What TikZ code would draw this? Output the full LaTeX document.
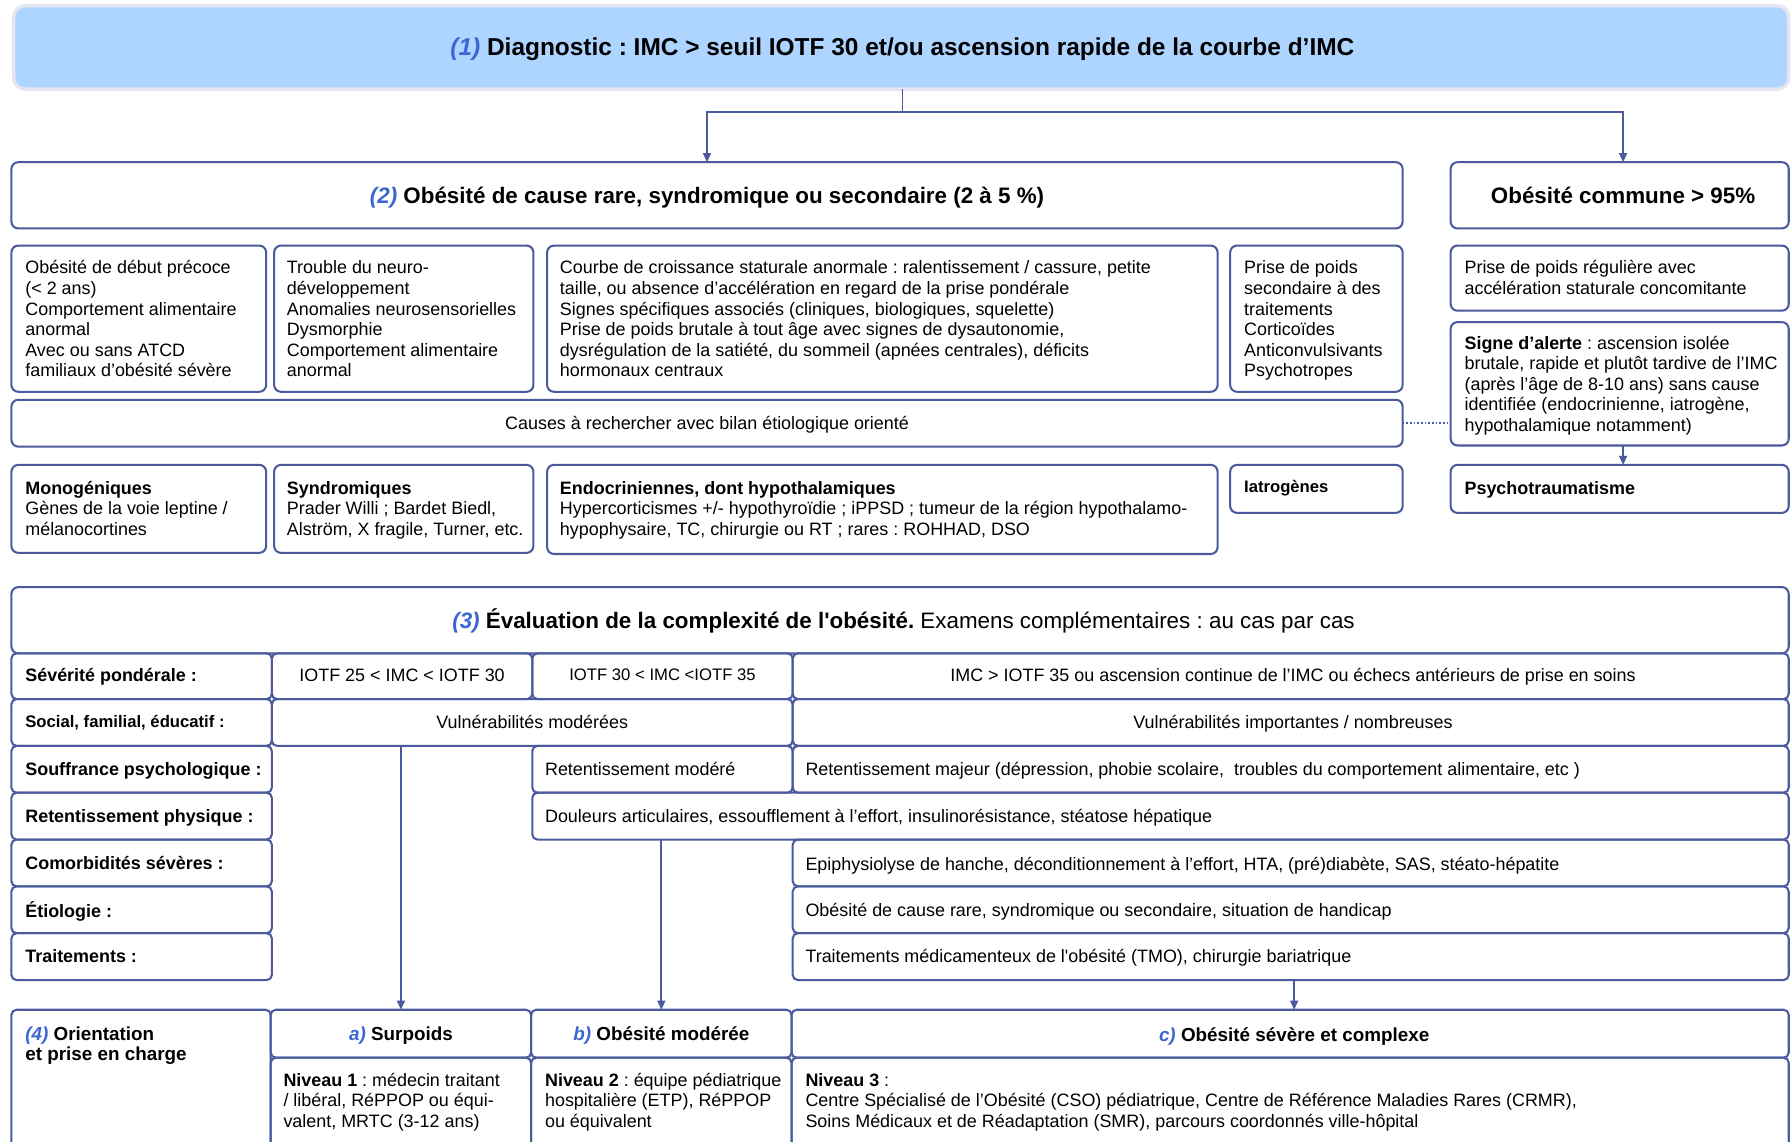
\documentclass[tikz,border=0pt]{standalone}
\usepackage{fontspec}
\setmainfont{Liberation Sans}
\newfontfamily\lsans{Liberation Sans}
\usetikzlibrary{arrows.meta}

\definecolor{frame}{HTML}{4A5A9C}
\definecolor{numblue}{HTML}{3D66D4}
\definecolor{diagfill}{HTML}{ADD5FF}
\definecolor{diagedge}{HTML}{E6E6F3}

\newcommand\bodysize{\lsans\frenchspacing\fontsize{15.7}{18}\selectfont}
\newcommand\smallsize{\lsans\frenchspacing\fontsize{14.6}{17}\selectfont}
\newcommand\headsize{\lsans\frenchspacing\fontsize{19.6}{22}\selectfont}
\newcommand\topsize{\lsans\frenchspacing\fontsize{21.4}{24}\selectfont}
\newcommand\subhead{\lsans\frenchspacing\fontsize{16.5}{18}\selectfont}
\newcommand\nmark[1]{{\bfseries\itshape\color{numblue}#1}}

% rounded box from its top-left (#2,#3) to its bottom-right (#4,#5)
\newcommand\boxat[6][]{%
  \node[cell,#1,anchor=north west,minimum width={#4-#2},minimum height={#5-#3}] (#6) at (#2,#3) {};}

\begin{document}
\frenchspacing
\begin{tikzpicture}[x=1pt,y=-1pt,
  cell/.style={draw=frame,line width=1.8pt,rounded corners=6pt,inner sep=0pt,outer sep=0pt},
  tcell/.style={rounded corners=4.5pt},
  txt/.style={inner sep=0pt,align=left,font=\bodysize,anchor=north west},
  ctr/.style={inner sep=0pt,font=\bodysize,anchor=base},
  arr/.style={draw=frame,line width=1.5pt,-{Triangle[length=8pt,width=7pt]}}]

\useasboundingbox (0,0) rectangle (1568,999);
\clip (0,0) rectangle (1568,999);

% (1) diagnostic banner
\boxat[fill=diagfill,draw=diagedge,line width=3pt,rounded corners=10pt]{12}{5}{1566}{78}{diag}
\node[ctr,font=\topsize\bfseries] (diagt) at (790,49)
  {\nmark{(1)} Diagnostic : IMC > seuil IOTF 30 et/ou ascension rapide de la courbe d’IMC};

% (2) rare causes / common obesity
\boxat{10}{142}{1228}{200}{rare}
\node[ctr,font=\headsize\bfseries] (raret) at (619,178)
  {\nmark{(2)} Obésité de cause rare, syndromique ou secondaire (2 à 5 \%)};
\boxat{1270}{142}{1566}{200}{com}
\node[ctr,font=\headsize\bfseries] (comt) at (1421,178) {Obésité commune > 95\%};

\draw[arr] (diag.south -| diagt) -- ++(0,20) -| (rare.north);
\draw[arr] (diag.south -| diagt) -- ++(0,20) -| (comt |- com.north);

% clinical signs
\boxat{10}{215}{233}{343}{sa}
\node[txt] (sat) at (22,227) {\strut Obésité de début précoce\\(< 2 ans)\\Comportement alimentaire\\anormal\\Avec ou sans ATCD\\familiaux d’obésité sévère};
\boxat{240}{215}{467}{343}{sb}
\node[txt] (sbt) at (251,227) {\strut Trouble du neuro-\\développement\\Anomalies neurosensorielles\\Dysmorphie\\Comportement alimentaire\\anormal};
\boxat{479}{215}{1066}{343}{sc}
\node[txt] (sct) at (490,227) {\strut Courbe de croissance staturale anormale : ralentissement / cassure, petite\\taille, ou absence d’accélération en regard de la prise pondérale\\Signes spécifiques associés (cliniques, biologiques, squelette)\\Prise de poids brutale à tout âge avec signes de dysautonomie,\\dysrégulation de la satiété, du sommeil (apnées centrales), déficits\\hormonaux centraux};
\boxat{1077}{215}{1228}{343}{sd}
\node[txt] (sdt) at (1089,227) {\strut Prise de poids\\secondaire à des\\traitements\\Corticoïdes\\Anticonvulsivants\\Psychotropes};
\boxat{1270}{215}{1566}{272}{reg}
\node[txt] (regt) at (1282,227) {\strut Prise de poids régulière avec\\accélération staturale concomitante};
\boxat{1270}{282}{1566}{390}{sig}
\node[txt] (sigt) at (1282,293) {\strut\textbf{Signe d’alerte} : ascension isolée\\brutale, rapide et plutôt tardive de l’IMC\\(après l’âge de 8-10 ans) sans cause\\identifiée (endocrinienne, iatrogène,\\hypothalamique notamment)};

% causes to look for
\boxat{10}{350}{1228}{391}{cau}
\node[ctr] (caut) at (619,376) {Causes à rechercher avec bilan étiologique orienté};
\draw[frame,line width=1.5pt,dash pattern=on 1.6pt off 1.6pt] (cau.east) -- (cau.east -| sig.west);

\boxat{10}{407}{233}{484}{mono}
\node[txt] (monot) at (22,420) {\strut\textbf{Monogéniques}\\Gènes de la voie leptine /\\mélanocortines};
\boxat{240}{407}{467}{484}{synd}
\node[txt] (syndt) at (251,420) {\strut\textbf{Syndromiques}\\Prader Willi ; Bardet Biedl,\\Alström, X fragile, Turner, etc.};
\boxat{479}{407}{1066}{485}{endo}
\node[txt] (endot) at (490,420) {\strut\textbf{Endocriniennes, dont hypothalamiques}\\Hypercorticismes +/- hypothyroïdie ; iPPSD ; tumeur de la région hypothalamo-\\hypophysaire, TC, chirurgie ou RT ; rares : ROHHAD, DSO};
\boxat{1077}{407}{1228}{449}{iat}
\node[txt,font=\smallsize\bfseries] (iatt) at (1089,419) {\strut Iatrogènes};
\boxat{1270}{407}{1566}{449}{psy}
\node[txt,font=\bodysize\bfseries] (psyt) at (1282,420) {\strut Psychotraumatisme};
\draw[arr] (sig.south -| comt) -- (psy.north -| comt);

% (3) complexity assessment
\boxat{10}{514}{1566}{572}{eval}
\node[ctr,font=\headsize] (evalt) at (791,550)
  {\nmark{(3)} \textbf{Évaluation de la complexité de l'obésité.} Examens complémentaires : au cas par cas};

% row labels
\boxat[tcell]{10}{572}{238}{612}{l1}
\boxat[tcell]{10}{612}{238}{653}{l2}
\boxat[tcell]{10}{653}{238}{694}{l3}
\boxat[tcell]{10}{694}{238}{735}{l4}
\boxat[tcell]{10}{735}{238}{776}{l5}
\boxat[tcell]{10}{776}{238}{817}{l6}
\boxat[tcell]{10}{817}{238}{858}{l7}
\node[txt,font=\bodysize\bfseries] (l1t) at (22,584) {\strut Sévérité pondérale :};
\node[txt,font=\smallsize\bfseries] (l2t) at (22,625) {\strut Social, familial, éducatif :};
\node[txt,font=\bodysize\bfseries] (l3t) at (22,666) {\strut Souffrance psychologique :};
\node[txt,font=\bodysize\bfseries] (l4t) at (22,707) {\strut Retentissement physique :};
\node[txt,font=\bodysize\bfseries] (l5t) at (22,748) {\strut Comorbidités sévères :};
\node[txt,font=\bodysize\bfseries] (l6t) at (22,789) {\strut Étiologie :};
\node[txt,font=\bodysize\bfseries] (l7t) at (22,830) {\strut Traitements :};

% weight severity
\boxat[tcell]{238}{572}{466}{612}{sev1}
\boxat[tcell]{466}{572}{694}{612}{sev2}
\boxat[tcell]{694}{572}{1566}{612}{sev3}
\node[ctr] (sev1t) at (352,597) {IOTF 25 < IMC < IOTF 30};
\node[ctr,font=\smallsize] (sev2t) at (580,596) {IOTF 30 < IMC <IOTF 35};
\node[ctr] (sev3t) at (1132,597) {IMC > IOTF 35 ou ascension continue de l’IMC ou échecs antérieurs de prise en soins};

% social
\boxat[tcell]{238}{612}{694}{653}{soc12}
\boxat[tcell]{694}{612}{1566}{653}{soc3}
\node[ctr] (soc12t) at (466,638) {Vulnérabilités modérées};
\node[ctr] (soc3t) at (1132,638) {Vulnérabilités importantes / nombreuses};

% psychological
\boxat[tcell]{466}{653}{694}{694}{psy2}
\boxat[tcell]{694}{653}{1566}{694}{psy3}
\node[txt] (psy2t) at (477,666) {\strut Retentissement modéré};
\node[txt] (psy3t) at (705,666) {\strut Retentissement majeur (dépression, phobie scolaire,\ \ troubles du comportement alimentaire, etc )};

% physical
\boxat[tcell]{466}{694}{1566}{735}{phys}
\node[txt] (physt) at (477,707) {\strut Douleurs articulaires, essoufflement à l’effort, insulinorésistance, stéatose hépatique};

% comorbidities, aetiology, treatments
\boxat[tcell]{694}{735}{1566}{776}{com3}
\node[txt] (com3t) at (705,749) {\strut Epiphysiolyse de hanche, déconditionnement à l’effort, HTA, (pré)diabète, SAS, stéato-hépatite};
\boxat[tcell]{694}{776}{1566}{817}{eti3}
\node[txt] (eti3t) at (705,790) {\strut Obésité de cause rare, syndromique ou secondaire, situation de handicap};
\boxat[tcell]{694}{817}{1566}{858}{trt3}
\node[txt] (trt3t) at (705,830) {\strut Traitements médicamenteux de l'obésité (TMO), chirurgie bariatrique};

% (4) orientation
\boxat[tcell]{10}{884}{237}{1012}{ori}
\node[txt,font=\subhead\bfseries] (orit) at (22,898) {\strut\nmark{(4)} Orientation\\et prise en charge};
\boxat[tcell]{237}{884}{465}{926}{abox}
\boxat[tcell]{465}{884}{693}{926}{bbox}
\boxat[tcell]{693}{884}{1566}{926}{cbox}
\node[ctr,font=\subhead\bfseries] (atxt) at (351,911) {\nmark{a)} Surpoids};
\node[ctr,font=\subhead\bfseries] (btxt) at (579,911) {\nmark{b)} Obésité modérée};
\node[ctr,font=\subhead\bfseries] (ctxt) at (1133,912) {\nmark{c)} Obésité sévère et complexe};
\boxat[tcell]{237}{926}{465}{1012}{n1}
\boxat[tcell]{465}{926}{693}{1012}{n2}
\boxat[tcell]{693}{926}{1566}{1012}{n3}
\node[txt] (n1t) at (248,938) {\strut\textbf{Niveau 1} : médecin traitant\\/ libéral, RéPPOP ou équi-\\valent, MRTC (3-12 ans)};
\node[txt] (n2t) at (477,938) {\strut\textbf{Niveau 2} : équipe pédiatrique\\hospitalière (ETP), RéPPOP\\ou équivalent};
\node[txt] (n3t) at (705,938) {\strut\textbf{Niveau 3} :\\Centre Spécialisé de l’Obésité (CSO) pédiatrique, Centre de Référence Maladies Rares (CRMR),\\Soins Médicaux et de Réadaptation (SMR), parcours coordonnés ville-hôpital};

\draw[arr] (soc12.south -| atxt) -- (abox.north -| atxt);
\draw[arr] (phys.south -| btxt) -- (bbox.north -| btxt);
\draw[arr] (trt3.south -| ctxt) -- (cbox.north -| ctxt);
\end{tikzpicture}
\end{document}
